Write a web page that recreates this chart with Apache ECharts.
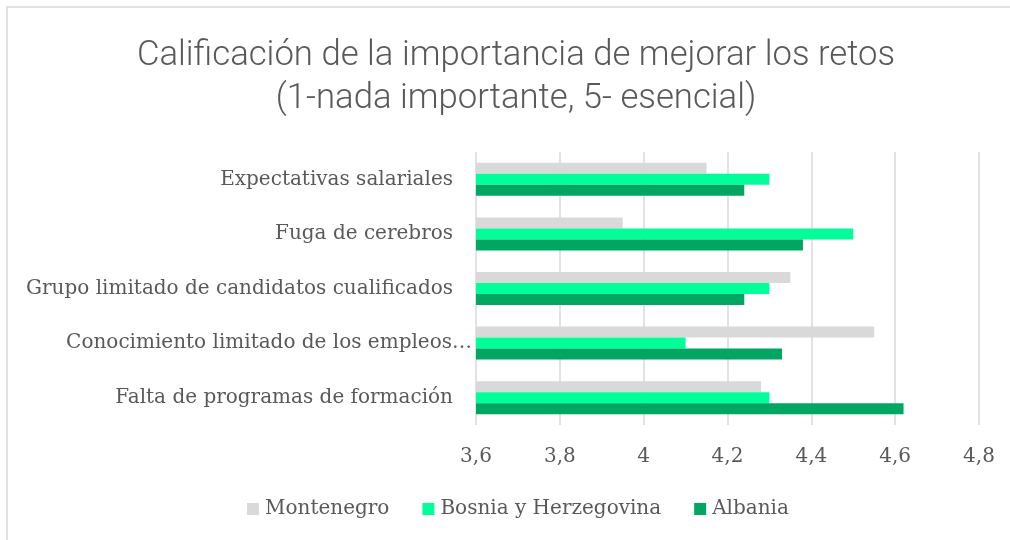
<!DOCTYPE html>
<html>
<head>
<meta charset="utf-8">
<script src="https://cdn.jsdelivr.net/npm/echarts@6/dist/echarts.min.js"></script>
<style>html,body{margin:0;padding:0;background:#fff;}#c{width:1010px;height:540px;}</style>
</head>
<body>
<div id="c"></div>
<script>
const titleText = 'Calificación de la importancia de mejorar los retos\n(1-nada importante, 5- esencial)';
const categories = ['Falta de programas de formación', 'Conocimiento limitado de los empleos…', 'Grupo limitado de candidatos cualificados', 'Fuga de cerebros', 'Expectativas salariales'];
const seriesNames = ['Montenegro', 'Bosnia y Herzegovina', 'Albania'];
const montenegro = [4.28, 4.55, 4.35, 3.95, 4.15];
const bosnia = [4.30, 4.10, 4.30, 4.50, 4.30];
const albania = [4.62, 4.33, 4.24, 4.38, 4.24];
const xMin = 3.6, xMax = 4.8, xStep = 0.2;

const colors = {'Montenegro': '#D9D9D9', 'Bosnia y Herzegovina': '#00FF99', 'Albania': '#00A661'};
const serif = 'DejaVu Serif';
const chart = echarts.init(document.getElementById('c'));
function bar(name, data) {
  return {name: name, type: 'bar', data: data, barWidth: 11, barGap: '0%', clip: true,
    itemStyle: {color: colors[name]}};
}
chart.setOption({
  animation: false,
  graphic: [{type: 'rect', shape: {x: 7, y: 7, width: 1100, height: 700}, style: {fill: 'none', stroke: '#D9D9D9', lineWidth: 1.5}, silent: true}],
  title: {text: titleText, left: 511, textAlign: 'center', top: 30,
    textStyle: {fontFamily: 'Roboto', fontWeight: 300, fontSize: 34.7, lineHeight: 43, color: '#595959'}},
  legend: {data: seriesNames, left: 247, top: 499, padding: 0, itemWidth: 12, itemHeight: 12, itemGap: 33,
    icon: 'rect', textStyle: {fontFamily: serif, fontSize: 20, color: '#595959', padding: [0,0,0,1]}},
  grid: {left: 476, right: 31, top: 152, bottom: 115},
  xAxis: {type: 'value', min: xMin, max: xMax, interval: xStep,
    axisLine: {show: false}, axisTick: {show: false},
    splitLine: {show: true, lineStyle: {color: '#D9D9D9', width: 1.5}},
    axisLabel: {margin: 22, fontFamily: serif, fontSize: 20, color: '#595959',
      formatter: v => String(Math.round(v * 10) / 10).replace('.', ',')}},
  yAxis: {type: 'category', data: categories,
    axisLine: {show: false}, axisTick: {show: false},
    axisLabel: {margin: 4, fontFamily: serif, fontSize: 20, color: '#595959',
      formatter: v => v.endsWith('…') ? '{e|' + v + '}' : '{n|' + v + '}',
      rich: {n: {fontFamily: serif, fontSize: 20, color: '#595959', padding: [0, 19, 0, 0]},
             e: {fontFamily: serif, fontSize: 20, color: '#595959'}}}},
  series: [bar('Montenegro', montenegro), bar('Bosnia y Herzegovina', bosnia), bar('Albania', albania)]
});
</script>
</body>
</html>
